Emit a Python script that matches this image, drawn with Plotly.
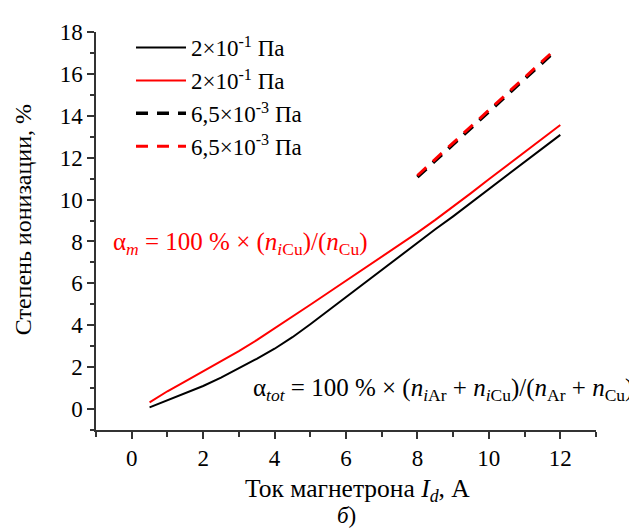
import plotly.graph_objects as go

# ---- data ----
current_solid = [0.5, 1, 1.5, 2, 2.5, 3, 3.5, 4, 4.5, 5, 5.5, 6, 6.5, 7, 7.5, 8,
                 8.5, 9, 9.5, 10, 10.5, 11, 11.5, 12]
alpha_tot_02 = [0.08, 0.42, 0.74, 1.10, 1.50, 1.94, 2.40, 2.88, 3.43, 4.05, 4.70, 5.35,
                6.00, 6.65, 7.30, 7.95, 8.58, 9.20, 9.85, 10.50, 11.14, 11.79, 12.44, 13.09]
alpha_m_02 = [0.32, 0.85, 1.32, 1.80, 2.28, 2.77, 3.29, 3.84, 4.40, 4.98, 5.55, 6.12,
              6.68, 7.24, 7.82, 8.42, 9.03, 9.66, 10.31, 10.97, 11.61, 12.26, 12.91, 13.56]

current_dash = [8, 9, 10, 11, 11.72]
alpha_tot_65 = [11.08, 12.65, 14.21, 15.76, 16.88]
alpha_m_65 = [11.15, 12.72, 14.28, 15.83, 16.95]

legend_labels = ["2×10<sup>-1</sup> Па", "2×10<sup>-1</sup> Па",
                 "6,5×10<sup>-3</sup> Па", "6,5×10<sup>-3</sup> Па"]

x_ticks = [0, 2, 4, 6, 8, 10, 12]
y_ticks = [0, 2, 4, 6, 8, 10, 12, 14, 16, 18]

FONT = "Liberation Serif"

fig = go.Figure()
fig.add_trace(go.Scatter(x=current_solid, y=alpha_tot_02, mode="lines", name=legend_labels[0],
                         legendgroup="a", line=dict(color="black", width=2)))
fig.add_trace(go.Scatter(x=current_solid, y=alpha_m_02, mode="lines", name=legend_labels[1],
                         legendgroup="b", line=dict(color="#ff0000", width=2)))
fig.add_trace(go.Scatter(x=current_dash, y=alpha_tot_65, mode="lines", name=legend_labels[2],
                         legendgroup="c", line=dict(color="black", width=3.5, dash="12px,9px")))
fig.add_trace(go.Scatter(x=current_dash, y=alpha_m_65, mode="lines", name=legend_labels[3],
                         legendgroup="d", line=dict(color="#ff0000", width=3, dash="12px,9px")))

axis_common = dict(showgrid=False, zeroline=False, showline=True, linecolor="#333333",
                   linewidth=1.5, ticks="outside", ticklen=7, tickwidth=1.5,
                   tickcolor="#333333", tickfont=dict(family=FONT, size=23, color="black"))

fig.update_xaxes(range=[-1, 13], tickvals=x_ticks,
                 minor=dict(ticks="outside", ticklen=5, tickwidth=1.5, tickcolor="#333333", dtick=1, tick0=0),
                 **axis_common)
fig.update_yaxes(range=[-1, 18], tickvals=y_ticks,
                 minor=dict(ticks="outside", ticklen=4, tickwidth=1.5, tickcolor="#333333", dtick=1, tick0=0),
                 **axis_common)

annotations = [
    dict(text="α<sub><i>m</i></sub> = 100 % × (<i>n</i><sub><i>i</i>Cu</sub>)/(<i>n</i><sub>Cu</sub>)",
         x=-0.58, y=7.92, xref="x", yref="y", xanchor="left", yanchor="middle",
         font=dict(family=FONT, size=25, color="#ff0000")),
    dict(text="α<sub><i>tot</i></sub> = 100 % × (<i>n</i><sub><i>i</i>Ar</sub> + <i>n</i><sub><i>i</i>Cu</sub>)/(<i>n</i><sub>Ar</sub> + <i>n</i><sub>Cu</sub>)",
         x=1.078, y=0.92, xref="paper", yref="y", xanchor="right", yanchor="middle",
         font=dict(family=FONT, size=25, color="black")),
    dict(text="Ток магнетрона <i>I<sub>d</sub></i>, А",
         x=0.522, y=-0.152, xref="paper", yref="paper", xanchor="center", yanchor="middle",
         font=dict(family=FONT, size=25.5, color="black")),
    dict(text="Степень ионизации, %", textangle=-90,
         x=-0.146, y=0.527, xref="paper", yref="paper", xanchor="center", yanchor="middle",
         font=dict(family=FONT, size=24, color="black")),
    dict(text="<i>б</i>)",
         x=0.5, y=-0.25, xref="paper", yref="paper", xanchor="center", yanchor="bottom",
         font=dict(family=FONT, size=23, color="black")),
]
for a in annotations:
    a["showarrow"] = False

fig.update_layout(
    width=637, height=528,
    margin=dict(l=88, r=49, t=20, b=106),
    paper_bgcolor="white", plot_bgcolor="white",
    font=dict(family=FONT, color="black"),
    showlegend=True,
    legend=dict(x=0.07, y=1.015, xanchor="left", yanchor="top", bgcolor="rgba(0,0,0,0)",
                font=dict(family=FONT, size=23, color="black"), tracegroupgap=0,
                itemwidth=50),
    annotations=annotations,
)

fig.write_html("out.html")
